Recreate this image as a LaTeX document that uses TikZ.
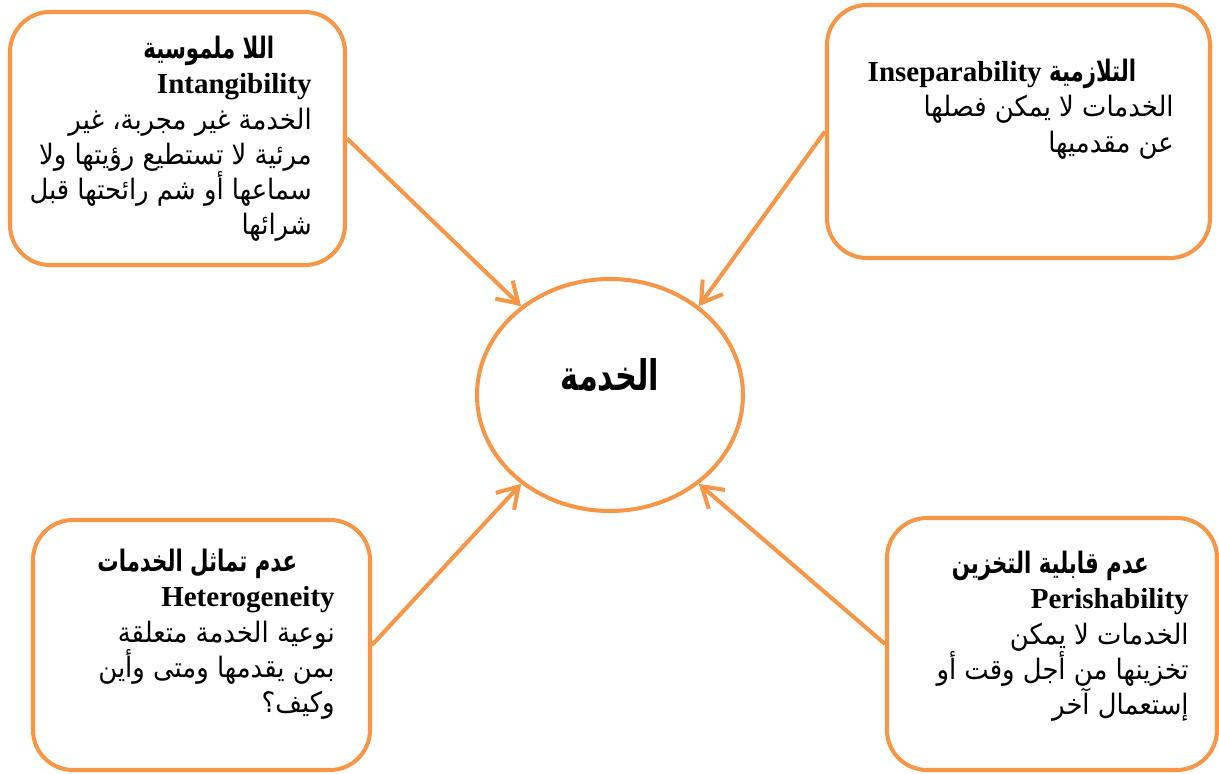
\documentclass[tikz,border=0pt]{standalone}
\usepackage{fontspec}
\setmainfont{Liberation Serif}
\newfontfamily\arabicfont[Script=Arabic,FakeStretch=0.92,BoldFeatures={FakeStretch=0.72}]{DejaVu Sans}
\TeXXeTstate=1
\usepackage{tikz}
\usetikzlibrary{arrows.meta,positioning,shapes.geometric}
\definecolor{srvorange}{HTML}{F79646}
\newcommand{\artx}[1]{{\arabicfont\fontsize{16}{20}\selectfont\beginR #1\endR}}
\newcommand{\arbf}[1]{{\arabicfont\bfseries\fontsize{16.8}{20}\selectfont\beginR #1\endR}}
\newcommand{\latbf}[1]{{\fontsize{16.5}{20}\selectfont\bfseries #1}}

\begin{document}
\begin{tikzpicture}[
  box/.style={draw=srvorange,line width=2.3pt,rounded corners=0.8cm,fill=white},
  hub/.style={ellipse,draw=srvorange,line width=2.3pt,inner sep=0pt,
    minimum width=5.32cm,minimum height=4.64cm},
  txt/.style={inner sep=0pt,align=right,font=\fontsize{15.5}{20}\selectfont},
  arr/.style={draw=srvorange,line width=2.3pt,-{Straight Barb[length=0.4cm,width=0.5cm]}}]
  \useasboundingbox (0,0) rectangle (24.38,15.46);
  \node[box,minimum width=6.7cm,minimum height=5.06cm] (intang) at (3.55,12.69) {};
  \node[box,minimum width=7.66cm,minimum height=5.06cm] (insep) at (20.37,12.83) {};
  \node[box,minimum width=6.74cm,minimum height=5cm] (hetero) at (4.03,2.56) {};
  \node[box,minimum width=6.6cm,minimum height=5.04cm] (perish) at (21.04,2.58) {};
  \node[hub] (service) at (12.2,7.56) {};
  \node (servicetxt) at ([yshift=0.4cm]service.center)
    {{\arabicfont\bfseries\fontsize{24}{28}\selectfont\beginR الخدمة\endR}};
  % the four characteristics
  \node[txt,below left=0.52cm and 0.7cm of intang.north east] (intangtxt)
    {\arbf{اللا ملموسية}\hspace*{0.75cm}\\
     \latbf{Intangibility}\\
     \artx{الخدمة غير مجربة، غير}\hspace*{0.75cm}\\
     \artx{مرئية لا تستطيع رؤيتها ولا}\\
     \artx{سماعها أو شم رائحتها قبل}\\
     \artx{شرائها}};
  \node[txt,below left=1.12cm and 0.76cm of insep.north east] (inseptxt)
    {{\arabicfont\bfseries\fontsize{16.8}{20}\selectfont\beginR التلازمية \beginL\latbf{\rmfamily Inseparability}\endL\endR}\hspace*{0.75cm}\\
     \artx{الخدمات لا يمكن فصلها}\hspace*{0.75cm}\\
     \artx{عن مقدميها}};
  \node[txt,below left=0.62cm and 0.74cm of hetero.north east] (heterotxt)
    {\arbf{عدم تماثل الخدمات}\hspace*{0.75cm}\\
     \latbf{Heterogeneity}\\
     \artx{نوعية الخدمة متعلقة}\hspace*{0.75cm}\\
     \artx{بمن يقدمها ومتى وأين}\\
     \artx{وكيف؟}};
  \node[txt,below left=0.7cm and 0.6cm of perish.north east] (perishtxt)
    {\arbf{عدم قابلية التخزين}\hspace*{0.8cm}\\
     \latbf{Perishability}\\
     \artx{الخدمات لا يمكن}\hspace*{0.8cm}\\
     \artx{تخزينها من أجل وقت أو}\\
     \artx{إستعمال آخر}};
  \draw[arr] (intang.east) -- (service.135);
  \draw[arr] (insep.west) -- (service.45);
  \draw[arr] (hetero.east) -- (service.225);
  \draw[arr] (perish.west) -- (service.-45);
\end{tikzpicture}
\end{document}
